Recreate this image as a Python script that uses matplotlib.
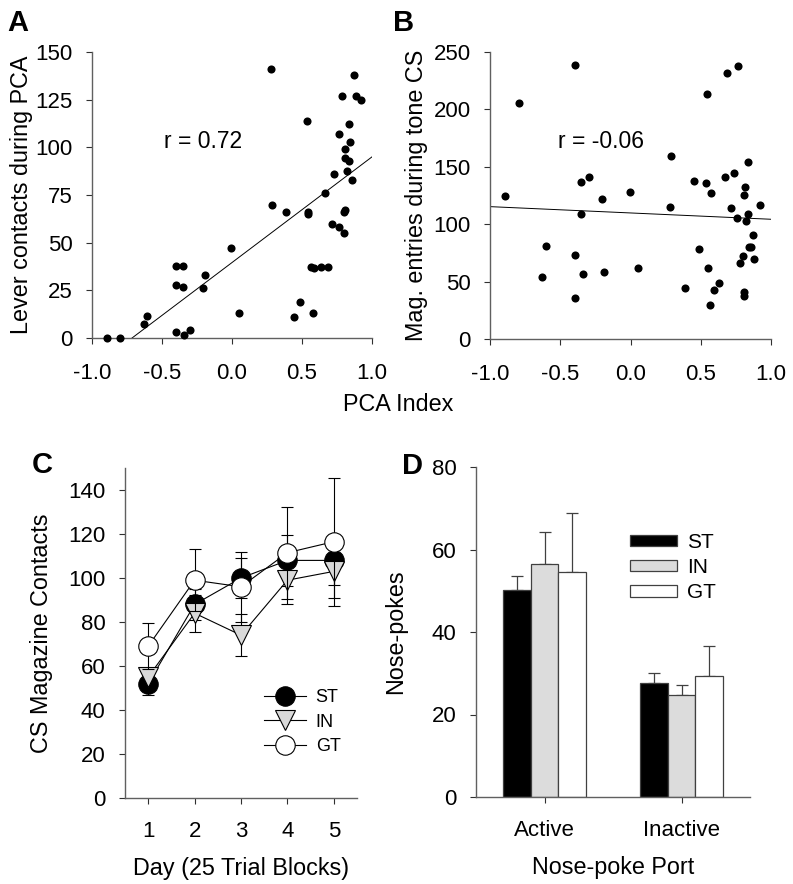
import matplotlib
matplotlib.use("Agg")
import matplotlib.pyplot as plt
from matplotlib.lines import Line2D
import numpy as np

plt.rcParams['font.family'] = ['Liberation Sans', 'DejaVu Sans']

# ---------------- Panel A data ----------------
a_x = [-0.893, -0.798, -0.631, -0.607, -0.40, -0.352, -0.40, -0.352, -0.40, -0.345,
       -0.298, -0.19, -0.207, -0.007, 0.048, 0.279, 0.286, 0.386, 0.536, 0.540,
       0.540, 0.488, 0.445, 0.576, 0.564, 0.588, 0.636, 0.686, 0.667, 0.726,
       0.714, 0.762, 0.802, 0.810, 0.802, 0.767, 0.786, 0.810, 0.810, 0.833,
       0.845, 0.838, 0.821, 0.857, 0.874, 0.886, 0.921]
a_y = [0, 0, 7.3, 11.3, 38, 38, 28, 27, 3, 1.5,
       4.4, 33, 26, 47, 13, 141, 70, 66, 114, 66,
       65, 19, 11, 13, 37.5, 36.6, 37.5, 37.5, 76, 86,
       60, 58, 55, 67, 66, 107, 127, 99, 94.5, 112,
       103, 93, 87.5, 83, 138, 127, 125]
a_fit_x = [-0.714, 1.0]
a_fit_y = [0.0, 95.0]

# ---------------- Panel B data ----------------
b_x = [-0.891, -0.793, -0.392, -0.60, -0.629, -0.394, -0.394, -0.340, -0.354, -0.354,
       -0.297, -0.204, -0.188, -0.002, 0.050, 0.283, 0.287, 0.390, 0.449, 0.489,
       0.539, 0.544, 0.549, 0.575, 0.568, 0.591, 0.627, 0.670, 0.686, 0.734,
       0.717, 0.765, 0.758, 0.781, 0.800, 0.805, 0.810, 0.812, 0.810, 0.834,
       0.836, 0.824, 0.841, 0.857, 0.872, 0.881, 0.919]
b_y = [124.6, 206, 239, 81.4, 53.6, 73.3, 35.6, 56.5, 109, 137,
       141, 122, 58, 128, 62, 115, 159, 44, 138, 78,
       136, 213, 62, 127, 30, 43, 49, 141, 232, 145,
       114, 238, 105, 66, 72, 40.6, 37.7, 132, 125, 154,
       109, 103, 80, 80, 91, 69.5, 117]
b_fit_x = [-1.0, 1.0]
b_fit_y = [115.3, 104.3]

# ---------------- Panel C data ----------------
days = [1, 2, 3, 4, 5]
c_st = [52, 88, 100, 108, 108]
c_st_err = [5, 7, 9, 11.5, 11]
c_in = [55, 84, 74, 99, 103]
c_in_err = [3.5, 8.5, 9.5, 11, 12]
c_gt = [69, 99, 96, 111.5, 116.5]
c_gt_err = [10.5, 14, 16, 21, 29]

# ---------------- Panel D data ----------------
ports = ['Active', 'Inactive']
d_st = [50.3, 27.6]
d_st_err = [3.2, 2.4]
d_in = [56.6, 24.7]
d_in_err = [7.6, 2.4]
d_gt = [54.6, 29.3]
d_gt_err = [14.2, 7.4]

groups = ['ST', 'IN', 'GT']

W, H = 793, 884
fig = plt.figure(figsize=(W / 100, H / 100), dpi=100)


def px_axes(left, top, right, bottom):
    return fig.add_axes([left / W, (H - bottom) / H, (right - left) / W, (bottom - top) / H])


SPINE = '#606060'
TICKFS = 16
LABFS = 16.8


def style(ax, xpad):
    for s in ['top', 'right']:
        ax.spines[s].set_visible(False)
    for s in ['left', 'bottom']:
        ax.spines[s].set_color(SPINE)
        ax.spines[s].set_linewidth(1.0)
    ax.tick_params(direction='out', length=4, width=0.8, color='#303030',
                   labelsize=TICKFS)
    ax.tick_params(axis='x', pad=xpad)
    ax.tick_params(axis='y', pad=10)


# Panel A
axA = px_axes(92, 52, 372, 338)
axA.scatter(a_x, a_y, s=34, color='black', zorder=3, clip_on=False, linewidths=0)
axA.plot(a_fit_x, a_fit_y, color='black', lw=0.7)
axA.set_xlim(-1, 1)
axA.set_ylim(0, 150)
axA.set_xticks([-1.0, -0.5, 0.0, 0.5, 1.0])
axA.set_xticklabels(['-1.0', '-0.5', '0.0', '0.5', '1.0'])
axA.set_yticks([0, 25, 50, 75, 100, 125, 150])
axA.set_ylabel('Lever contacts during PCA', fontsize=LABFS)
style(axA, 14)
axA.yaxis.set_label_coords(-0.21, 0.5)
axA.text(-0.488, 103, 'r = 0.72', fontsize=16.5, va='center', ha='left')

# Panel B
axB = px_axes(490, 52, 771, 339)
axB.scatter(b_x, b_y, s=34, color='black', zorder=3, clip_on=False, linewidths=0)
axB.plot(b_fit_x, b_fit_y, color='black', lw=0.7)
axB.set_xlim(-1, 1)
axB.set_ylim(0, 250)
axB.set_xticks([-1.0, -0.5, 0.0, 0.5, 1.0])
axB.set_xticklabels(['-1.0', '-0.5', '0.0', '0.5', '1.0'])
axB.set_yticks([0, 50, 100, 150, 200, 250])
axB.set_ylabel('Mag. entries during tone CS', fontsize=LABFS)
style(axB, 14)
axB.yaxis.set_label_coords(-0.221, 0.5)
axB.text(-0.513, 172, 'r = -0.06', fontsize=16.5, va='center', ha='left')

fig.text(398 / W, 1 - 405 / H, 'PCA Index', fontsize=LABFS, ha='center', va='center')

# Panel C
axC = px_axes(125, 468, 357, 798)
ms = 14
c_series = [
    (c_st, c_st_err, 'o', 'black', 'ST', 3),
    (c_in, c_in_err, 'v', '#d9d9d9', 'IN', 4),
    (c_gt, c_gt_err, 'o', 'white', 'GT', 5),
]
handles = []
for vals, errs, mk, fc, lab, z in c_series:
    axC.errorbar(days, vals, yerr=errs, fmt='none', ecolor='black', elinewidth=0.8,
                 capsize=4, capthick=0.8, zorder=z - 0.5)
    axC.plot(days, vals, color='black', lw=0.8, marker=mk, markersize=ms,
             markerfacecolor=fc, markeredgecolor='black', markeredgewidth=0.8,
             zorder=z, clip_on=False)
    handles.append(Line2D([], [], color='black', lw=0.8, marker=mk, markersize=ms,
                          markerfacecolor=fc, markeredgecolor='black',
                          markeredgewidth=0.8, label=lab))
axC.set_xlim(0.5, 5.5)
axC.set_ylim(0, 150)
axC.set_xticks(days)
axC.set_yticks([0, 20, 40, 60, 80, 100, 120, 140])
axC.set_xlabel('Day (25 Trial Blocks)', fontsize=LABFS, labelpad=11)
axC.set_ylabel('CS Magazine Contacts', fontsize=LABFS)
style(axC, 12.5)
axC.yaxis.set_label_coords(-0.311, 0.5)
axC.legend(handles=handles, loc='upper left', bbox_to_anchor=(0.6, 0.33),
           frameon=False, fontsize=13, borderpad=0, borderaxespad=0,
           handlelength=2.3, handletextpad=0.55, labelspacing=0.42)

# Panel D
axD = px_axes(476, 467, 750, 797)
x = np.arange(len(ports))
bw = 0.2
d_series = [(d_st, d_st_err, 'black'), (d_in, d_in_err, '#dcdcdc'), (d_gt, d_gt_err, 'white')]
for i, (vals, errs, col) in enumerate(d_series):
    pos = x + (i - 1) * bw
    axD.bar(pos, vals, width=bw, color=col, edgecolor='#404040', linewidth=0.9,
            label=groups[i], zorder=2)
    axD.errorbar(pos, vals, yerr=[np.zeros(len(vals)), errs], fmt='none',
                 ecolor='#404040', elinewidth=0.9, capsize=4, capthick=0.9, zorder=1)
axD.set_xlim(-0.5, 1.5)
axD.set_ylim(0, 80)
axD.set_xticks(x)
axD.set_xticklabels(ports)
axD.set_yticks([0, 20, 40, 60, 80])
axD.set_xlabel('Nose-poke Port', fontsize=LABFS, labelpad=11)
axD.set_ylabel('Nose-pokes', fontsize=LABFS)
style(axD, 12.5)
axD.yaxis.set_label_coords(-0.25, 0.5)
axD.legend(loc='upper left', bbox_to_anchor=(0.5625, 0.80), frameon=False,
           fontsize=15, borderpad=0, borderaxespad=0,
           handlelength=2.25, handleheight=0.45, handletextpad=0.5, labelspacing=0.3)

# Panel letters
fig.text(7 / W, 1 - 9 / H, 'A', fontsize=21, fontweight='bold', va='top', ha='left')
fig.text(393 / W, 1 - 9 / H, 'B', fontsize=21, fontweight='bold', va='top', ha='left')
fig.text(32 / W, 1 - 451 / H, 'C', fontsize=21, fontweight='bold', va='top', ha='left')
fig.text(402 / W, 1 - 452 / H, 'D', fontsize=21, fontweight='bold', va='top', ha='left')

fig.savefig('out.png', dpi=100)
